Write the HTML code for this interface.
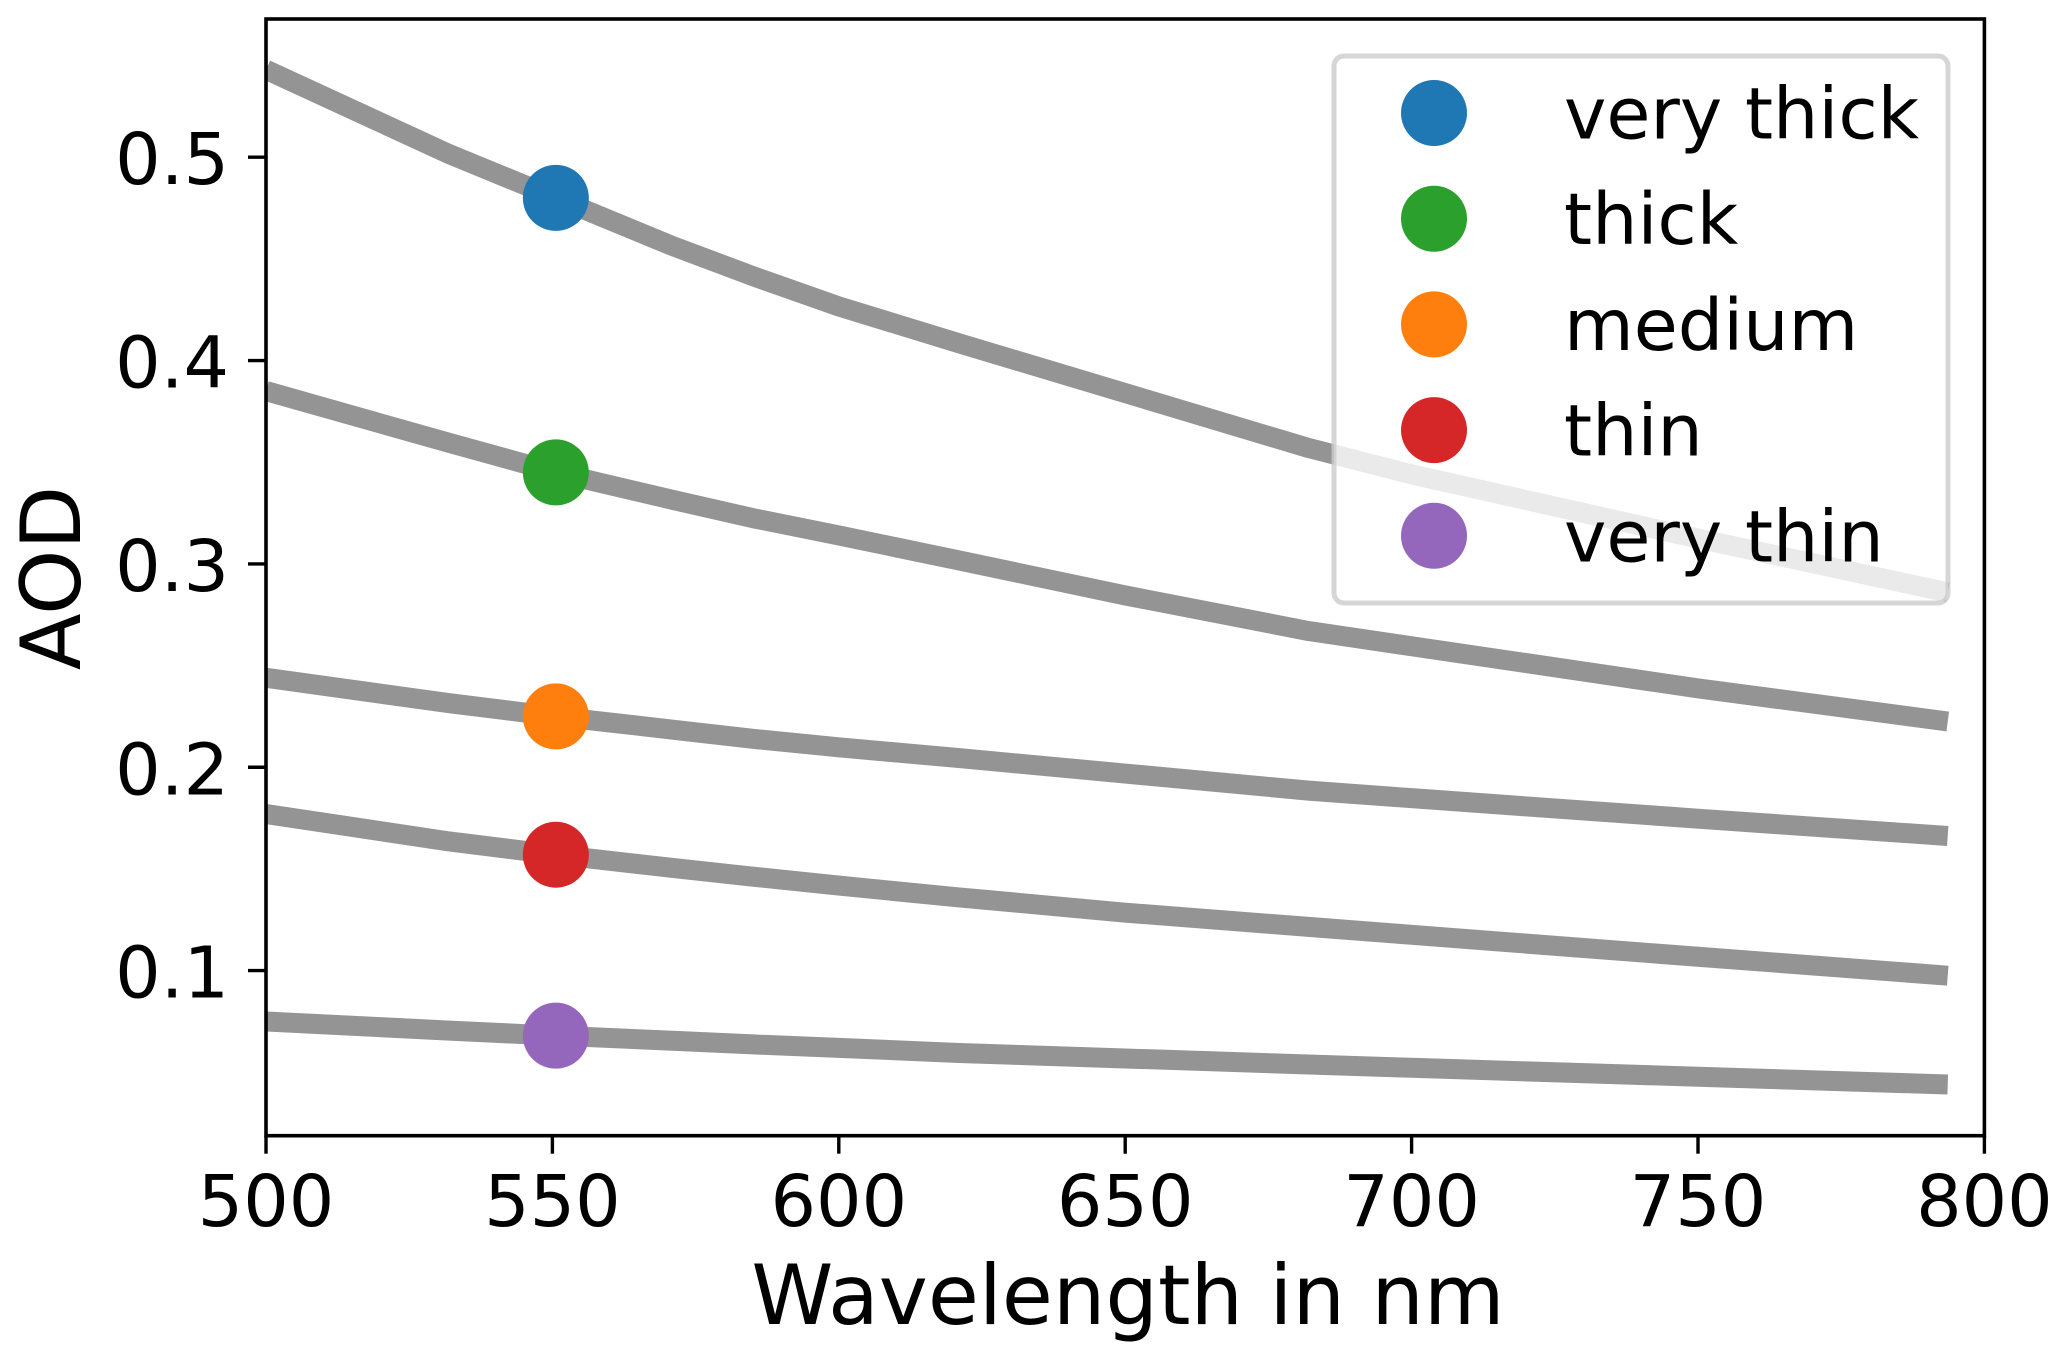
<!DOCTYPE html>
<html lang="en">
<head>
<meta charset="utf-8">
<title>AOD vs wavelength</title>
<style>
html,body{margin:0;padding:0;background:#fff;}
svg{display:block;}
text{font-family:"DejaVu Sans","Liberation Sans",sans-serif;fill:#000;}
</style>
</head>
<body>
<svg id="chart" xmlns="http://www.w3.org/2000/svg" width="2067" height="1359" viewBox="0 0 2067 1359"></svg>
<script>
const wavelengths = [500, 532, 550.6, 571, 585, 600, 621, 650, 682, 700, 750, 793.6];
const veryThick = [0.543, 0.5015, 0.480, 0.4563, 0.4415, 0.4266, 0.4085, 0.384, 0.357, 0.344, 0.3125, 0.286];
const thick = [0.385, 0.3595, 0.345, 0.3315, 0.3225, 0.314, 0.3017, 0.2845, 0.267, 0.2595, 0.2388, 0.2225];
const medium = [0.244, 0.2315, 0.225, 0.2185, 0.214, 0.2098, 0.2045, 0.1969, 0.1885, 0.1848, 0.1747, 0.1662];
const thin = [0.177, 0.1635, 0.157, 0.1505, 0.1462, 0.1418, 0.136, 0.1285, 0.1215, 0.1176, 0.1068, 0.0975];
const veryThin = [0.075, 0.0705, 0.068, 0.0655, 0.0637, 0.062, 0.0595, 0.0568, 0.0538, 0.0522, 0.0478, 0.044];
const seriesLabels = ['very thick', 'thick', 'medium', 'thin', 'very thin'];
const markerWavelength = 550.6;
const markerValues = [0.480, 0.345, 0.225, 0.157, 0.068];
const xTicks = [500, 550, 600, 650, 700, 750, 800];
const yTicks = [0.1, 0.2, 0.3, 0.4, 0.5];

const allSeries = [veryThick, thick, medium, thin, veryThin];
const colors = ['#1f77b4', '#2ca02c', '#ff7f0e', '#d62728', '#9467bd'];
const NS = 'http://www.w3.org/2000/svg';
const svg = document.getElementById('chart');
const plot = {left: 266, right: 1984.4, top: 19, bottom: 1135.7};
function xScale(v) { return plot.left + (v - 500) * (plot.right - plot.left) / 300; }
function yScale(v) { return 970.6 - (v - 0.1) * 2033.5; }
function make(tag, attrs, parent) {
  const el = document.createElementNS(NS, tag);
  for (const k in attrs) el.setAttribute(k, attrs[k]);
  (parent || svg).appendChild(el);
  return el;
}
const defs = make('defs', {});
const clip = make('clipPath', {id: 'plot-clip'}, defs);
make('rect', {x: plot.left, y: plot.top, width: plot.right - plot.left, height: plot.bottom - plot.top}, clip);

const linesGroup = make('g', {'clip-path': 'url(#plot-clip)'});


allSeries.forEach(function (vals, i) {
  const pts = vals.map(function (v, j) { return xScale(wavelengths[j]).toFixed(2) + ',' + yScale(v).toFixed(2); }).join(' ');
  const line = make('polyline', {points: pts, fill: 'none', stroke: '#949494', 'stroke-width': 20, 'stroke-linejoin': 'round', 'stroke-linecap': 'butt'}, linesGroup);
  
  
});

markerValues.forEach(function (v, i) {
  const dot = make('circle', {cx: xScale(markerWavelength), cy: yScale(v), r: 33, fill: colors[i]});
  
  
});

const legendBox = make('rect', {x: 1334, y: 56, width: 614, height: 547, rx: 10, ry: 10, fill: 'rgba(255,255,255,0.8)', stroke: 'rgba(204,204,204,0.8)', 'stroke-width': 5});


seriesLabels.forEach(function (label, i) {
  const cy = 113 + i * 105.7;
  const sw = make('circle', {cx: 1434, cy: cy, r: 33, fill: colors[i]});
  
  
  const t = make('text', {x: 1564, y: cy + 25.5, 'font-size': 71.6});
  t.textContent = label;
  
  
});

xTicks.forEach(function (v) {
  const x = xScale(v);
  const tick = make('line', {x1: x, x2: x, y1: plot.bottom, y2: plot.bottom + 18, stroke: '#000', 'stroke-width': 3.4});
  
  
  const t = make('text', {x: x, y: 1226, 'font-size': 71.6, 'text-anchor': 'middle'});
  t.textContent = String(v);
  
  
});
yTicks.forEach(function (v) {
  const y = yScale(v);
  const tick = make('line', {x1: plot.left - 18, x2: plot.left, y1: y, y2: y, stroke: '#000', 'stroke-width': 3.4});
  
  
  const t = make('text', {x: 229, y: y + 27, 'font-size': 71.6, 'text-anchor': 'end'});
  t.textContent = v.toFixed(1);
  
  
});

const frame = make('rect', {x: plot.left, y: plot.top, width: plot.right - plot.left, height: plot.bottom - plot.top, fill: 'none', stroke: '#000', 'stroke-width': 3.6});



const xTitle = make('text', {x: 1128, y: 1324, 'font-size': 82.9, 'text-anchor': 'middle'});
xTitle.textContent = 'Wavelength in nm';



const yTitle = make('text', {x: 0, y: 0, 'font-size': 82.9, 'text-anchor': 'middle', transform: 'translate(80 578) rotate(-90)'});
yTitle.textContent = 'AOD';


</script>
</body>
</html>
